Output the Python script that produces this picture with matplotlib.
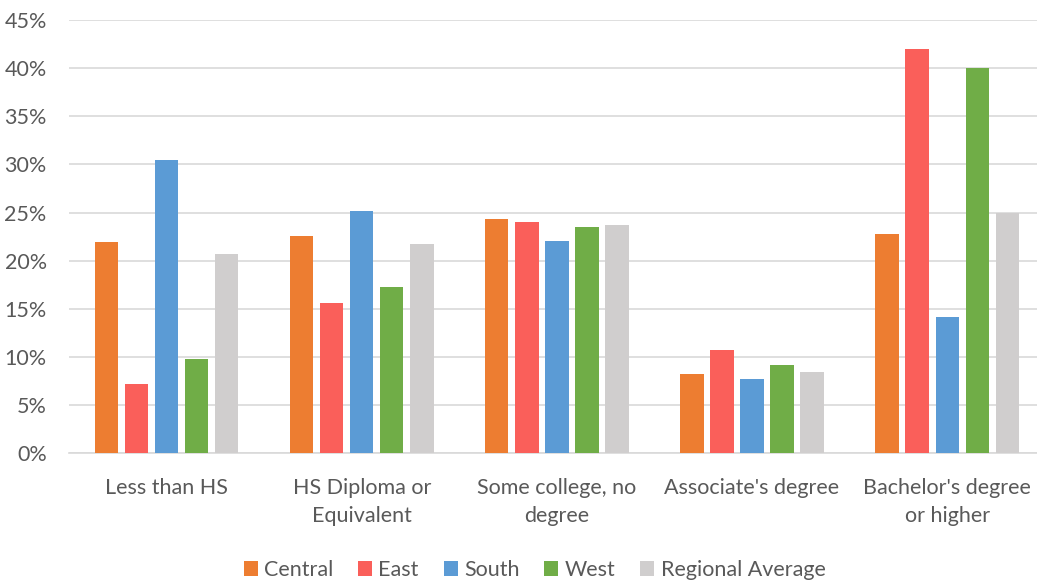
import numpy as np
import matplotlib.pyplot as plt
from matplotlib.ticker import PercentFormatter

# data (percent)
categories = ["Less than HS", "HS Diploma or\nEquivalent", "Some college, no\ndegree",
              "Associate's degree", "Bachelor's degree\nor higher"]
central = [21.9, 22.6, 24.3, 8.2, 22.8]
east = [7.2, 15.6, 24.0, 10.7, 42.0]
south = [30.4, 25.2, 22.0, 7.7, 14.2]
west = [9.8, 17.3, 23.5, 9.2, 40.0]
regional_avg = [20.7, 21.7, 23.7, 8.5, 25.0]

series = [("Central", central, "#ED7D31"),
          ("East", east, "#FA5F5A"),
          ("South", south, "#5B9BD5"),
          ("West", west, "#70AD47"),
          ("Regional Average", regional_avg, "#D0CECE")]

plt.rcParams["font.family"] = ["Lato", "DejaVu Sans"]

fig = plt.figure(figsize=(10.37, 5.81), dpi=100)
ax = fig.add_axes([0.0665, 0.2195, 0.9335, 0.7465])

x = np.arange(len(categories))
pitch = 0.154
width = 0.12
for i, (name, vals, color) in enumerate(series):
    ax.bar(x + (i - 2) * pitch, vals, width, color=color, label=name, zorder=3)

ax.set_ylim(0, 45)
ax.set_xlim(-0.5, 4.46)
ax.set_yticks(np.arange(0, 46, 5))
ax.yaxis.set_major_formatter(PercentFormatter(decimals=0))
ax.grid(axis="y", color="#D9D9D9", linewidth=1.2, zorder=0)
ax.set_xticks(x)
ax.set_xticklabels(categories, linespacing=1.5)
ax.tick_params(axis="both", length=0, labelsize=15.5, colors="#595959")
ax.tick_params(axis="x", pad=18)
ax.tick_params(axis="y", pad=16)
for side in ["top", "right", "left"]:
    ax.spines[side].set_visible(False)
ax.spines["bottom"].set_color("#D9D9D9")
ax.spines["bottom"].set_linewidth(1.2)

leg = fig.legend(loc="center", bbox_to_anchor=(0.5155, 0.019), ncol=5, frameon=False,
                 fontsize=15.5, handlelength=0.65, handleheight=0.65, handletextpad=0.3,
                 columnspacing=1.15, labelcolor="#595959")

fig.savefig("out.png", dpi=100)
